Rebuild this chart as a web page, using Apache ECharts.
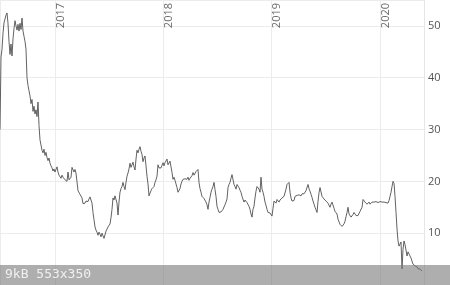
<!DOCTYPE html>
<html>
<head>
<meta charset="utf-8">
<script src="https://cdn.jsdelivr.net/npm/echarts@6/dist/echarts.min.js"></script>
<style>html,body{margin:0;padding:0;background:#fff}#c{width:450px;height:285px}</style>
</head>
<body>
<div id="c"></div>
<script>
// Sampling: first observation (fractional year) and spacing between observations (years)
const startYear = 2016.492;
const stepYears = 0.009234;
const endYear = 2020.407;
const yearTicks = [2017, 2018, 2019, 2020];
const priceTicks = [10, 20, 30, 40, 50];
const prices = [
30.0,44.0,45.5,48.6,50.6,50.3,52.1,52.5,50.5,47.0,44.5,46.5,44.2,47.5,49.5,
51.0,50.0,49.2,50.3,49.0,50.5,49.3,51.5,49.0,48.0,47.0,45.5,40.0,38.5,37.5,
36.5,35.0,35.8,33.5,34.5,33.0,33.8,32.5,35.3,30.8,28.0,27.0,26.0,25.5,26.2,
25.0,25.6,24.6,24.0,24.5,23.5,23.0,22.6,22.0,22.4,21.8,22.3,22.8,21.8,21.2,
21.0,20.6,21.2,20.8,20.5,20.3,20.6,20.0,21.8,20.3,20.2,20.8,22.7,22.5,21.8,
22.3,21.6,21.8,18.2,18.0,17.5,17.7,16.8,15.7,16.0,15.8,16.2,15.9,16.1,16.6,
17.0,16.4,15.8,14.0,12.6,11.2,10.6,10.2,9.6,10.2,9.8,9.3,10.0,9.5,9.0,
9.3,10.4,10.8,11.2,11.0,11.8,13.0,14.6,16.8,16.4,17.2,16.5,15.8,13.5,16.0,
17.9,18.6,19.0,19.8,19.0,18.4,19.8,21.0,21.6,22.4,23.5,22.7,23.2,23.7,22.8,
22.2,24.3,26.0,25.5,26.2,26.7,25.8,25.2,23.8,24.5,24.9,23.0,21.0,19.5,17.2,
17.1,18.2,18.6,18.3,19.0,19.8,20.3,21.0,23.2,22.6,22.3,22.6,22.4,23.6,23.0,
23.6,23.8,24.3,23.2,23.5,23.9,22.8,21.7,20.4,20.8,20.2,19.5,18.8,17.9,18.2,
18.6,19.5,20.0,20.4,20.1,20.5,20.2,20.4,20.8,20.2,20.6,20.9,21.1,21.7,21.2,
21.5,21.9,21.8,22.3,19.8,18.6,17.9,17.1,17.4,16.7,16.5,16.0,15.5,14.6,16.0,
16.9,17.9,18.5,19.0,19.8,18.4,17.1,15.2,14.6,14.0,14.2,14.1,13.8,14.6,14.8,
15.5,16.0,16.6,18.8,19.4,19.8,20.6,21.3,21.0,19.4,19.0,18.5,19.4,19.2,18.8,
18.3,17.9,17.1,16.8,16.0,16.4,16.6,15.9,15.6,15.2,14.6,13.7,13.1,14.6,15.2,
16.8,18.1,19.0,18.8,18.5,17.9,20.8,18.5,17.9,17.1,16.0,15.4,14.6,14.0,14.3,
13.9,13.6,13.3,14.8,16.2,16.0,15.8,16.5,16.2,16.0,16.4,16.6,16.8,16.7,17.1,
17.3,18.5,19.4,19.6,19.8,17.9,16.8,16.2,16.5,16.3,17.1,17.0,17.3,17.6,17.4,
17.5,17.2,17.6,17.9,17.6,17.8,18.2,18.5,19.4,18.6,18.1,17.5,16.9,16.2,15.6,
15.0,14.5,14.0,16.2,17.8,18.8,19.0,17.1,16.8,16.6,16.5,16.2,16.0,15.8,15.5,
15.0,15.6,16.0,15.7,14.8,14.2,14.0,13.7,12.7,12.2,11.7,11.5,11.3,11.6,11.8,
12.3,13.2,14.0,15.0,13.7,13.4,13.1,13.3,13.6,14.0,13.7,13.4,13.1,13.4,13.7,
14.2,14.0,15.0,16.5,16.2,16.0,15.8,15.6,15.9,16.0,15.6,15.8,16.0,16.2,16.0,
15.9,16.1,16.2,15.9,16.0,16.1,15.8,16.0,16.3,16.0,15.7,15.9,16.0,15.8,16.3,
17.1,17.9,19.0,20.0,19.6,17.1,14.0,10.8,8.5,7.5,7.9,8.3,3.1,6.9,8.5,
7.8,7.5,5.6,6.4,6.0,5.6,5.2,5.0,4.0,4.3,3.7,3.9,3.5,3.1,3.4,
3.1,3.0,2.7
];

const seriesData = prices.map((v, i) => [startYear + i * stepYears, v]);

const chart = echarts.init(document.getElementById('c'), null, {renderer: 'canvas'});
chart.setOption({
  animation: false,
  backgroundColor: '#ffffff',
  grid: {left: 0, right: 26, top: 0, bottom: 0, containLabel: false, outerBoundsMode: 'none'},
  xAxis: {
    type: 'value',
    position: 'top',
    min: startYear,
    max: endYear,
    axisLine: {show: false},
    axisTick: {show: false},
    splitLine: {show: true, lineStyle: {color: '#ececec', width: 1}},
    axisLabel: {
      inside: true,
      rotate: 90,
      verticalAlign: 'top',
      margin: 3,
      padding: [0, 0, 0, 0],
      color: '#6a6a6a',
      fontSize: 11,
      fontFamily: 'Open Sans',
      showMinLabel: false,
      showMaxLabel: false,
      formatter: v => {
        const r = Math.round(v);
        return (Math.abs(v - r) < 1e-6 && yearTicks.includes(r)) ? String(r) : '';
      }
    }
  },
  yAxis: {
    type: 'value',
    position: 'right',
    min: 0,
    max: 55,
    interval: 10,
    axisLine: {show: true, lineStyle: {color: '#e6e6e6', width: 1}},
    axisTick: {show: false},
    splitLine: {show: true, lineStyle: {color: '#ececec', width: 1}},
    axisLabel: {
      margin: 4,
      color: '#555',
      fontSize: 11,
      fontFamily: 'Open Sans',
      formatter: v => priceTicks.includes(v) ? String(v) : ''
    }
  },
  series: [{
    type: 'line',
    data: seriesData,
    showSymbol: false,
    lineStyle: {color: '#505050', width: 0.9},
    silent: true
  }],
  graphic: [
    {type: 'rect', shape: {x: 0, y: 265, width: 450, height: 20}, style: {fill: 'rgba(120,120,120,0.6)'}, z: 100},
    {type: 'text', x: 5, y: 275, style: {text: '9kB 553x350', fill: '#f0f0f0', font: '13px "DejaVu Sans Mono"', verticalAlign: 'middle'}, z: 101}
  ]
});
</script>
</body>
</html>
